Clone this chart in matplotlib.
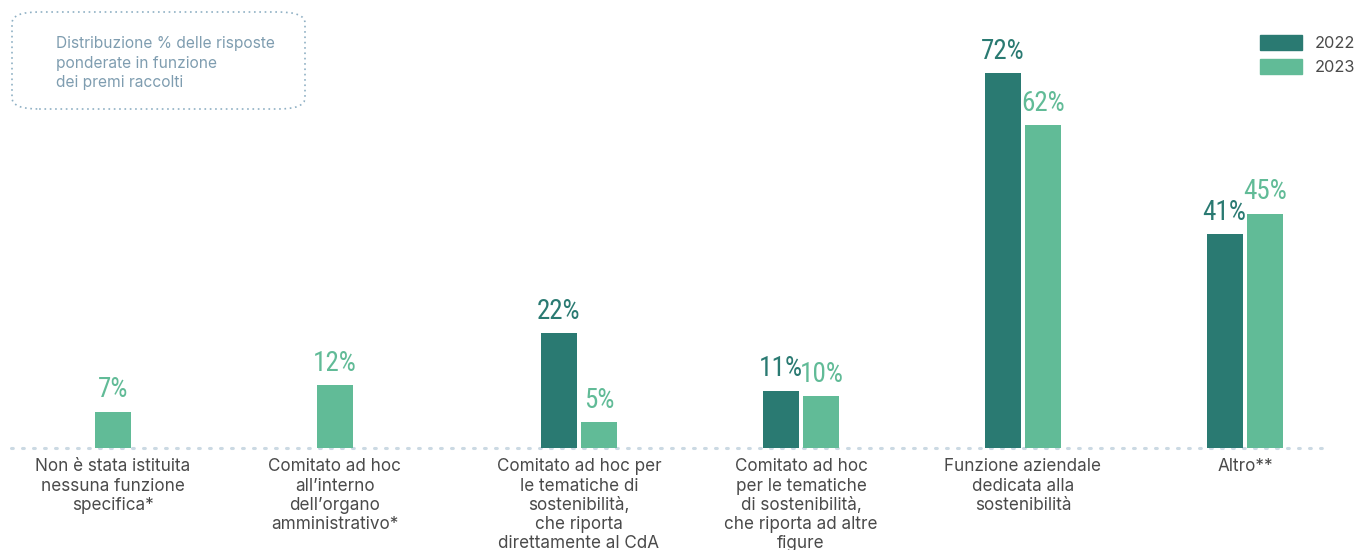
import numpy as np
import matplotlib.pyplot as plt
from matplotlib import font_manager
from matplotlib.patches import FancyBboxPatch, Patch

# Categorie e valori (%)
categories = [
    "Non è stata istituita\nnessuna funzione\nspecifica*",
    "Comitato ad hoc\nall’interno\ndell’organo\namministrativo*",
    "Comitato ad hoc per\nle tematiche di\nsostenibilità,\nche riporta\ndirettamente al CdA",
    "Comitato ad hoc\nper le tematiche\ndi sostenibilità,\nche riporta ad altre\nfigure",
    "Funzione aziendale\ndedicata alla\nsostenibilità",
    "Altro**",
]
values_2022 = [None, None, 22, 11, 72, 41]
values_2023 = [7, 12, 5, 10, 62, 45]
years = ["2022", "2023"]

DARK = "#2a7a72"
LIGHT = "#61bb97"
TEXT = "#4a4a4a"
NOTE = "#7f9db0"

plt.rcParams["font.family"] = ["Inter", "DejaVu Sans"]

# font stretto per le percentuali, se disponibile
installed = {f.name for f in font_manager.fontManager.ttflist}
narrow = [n for n in ("Roboto Condensed", "Open Sans Condensed", "Liberation Sans Narrow",
                      "DejaVu Sans Condensed") if n in installed]
if narrow:
    VALUE_FONT, VALUE_SIZE, VALUE_STRETCH = narrow[0], 19.5, "condensed"
else:
    VALUE_FONT, VALUE_SIZE, VALUE_STRETCH = "Roboto", 15.5, "normal"

fig = plt.figure(figsize=(13.56, 5.5), dpi=100)
ax = fig.add_axes([0, 102 / 550, 1, 448 / 550])

x = np.arange(len(categories))
w = 0.162
off = 0.092

for i in x:
    v22, v23 = values_2022[i], values_2023[i]
    if v22 is not None:
        bars = [(i - off, v22, DARK), (i + off, v23, LIGHT)]
    else:
        bars = [(i - 0.1, v23, LIGHT)]
    for xb, v, c in bars:
        ax.bar(xb, v, width=w, color=c, zorder=2)
        ax.annotate(f"{v}%", (xb, v), xytext=(0, 6), textcoords="offset points",
                    ha="center", va="bottom", fontsize=VALUE_SIZE, color=c,
                    family=VALUE_FONT, fontstretch=VALUE_STRETCH)

# linea di base a punti
ax.plot([-0.56, 5.37], [0, 0], color="#cbd9e3", lw=2.2,
        linestyle=(0, (0.6, 3.0)), dash_capstyle="round", zorder=1, clip_on=False)

for i, lab in zip(x, categories):
    ax.text(i - 0.1 if i < 2 else i, -2.0, lab, ha="center", va="top",
            fontsize=12.3, color=TEXT, linespacing=1.17)

ax.set_xlim(-135 / 222, (1356 - 135) / 222)
ax.set_ylim(0, 448 / 5.21)
ax.axis("off")

# riquadro nota
box = FancyBboxPatch((12 / 1356, 1 - 109 / 550), 293 / 1356, 97 / 550,
                     boxstyle="round,pad=0,rounding_size=0.02",
                     transform=fig.transFigure, fill=False,
                     edgecolor="#8fb0c4", lw=1.2, linestyle=(0, (1, 2.2)))
fig.add_artist(box)
fig.text(56 / 1356, 1 - 36 / 550,
         "Distribuzione % delle risposte\nponderate in funzione\ndei premi raccolti",
         ha="left", va="top", fontsize=11.2, color=NOTE, linespacing=1.38)

handles = [Patch(color=DARK), Patch(color=LIGHT)]
leg = fig.legend(handles, years, loc="upper right", bbox_to_anchor=(1.004, 0.949),
                 frameon=False, fontsize=11.8, handlelength=2.6, handleheight=1.05,
                 labelspacing=0.5, handletextpad=0.75, borderaxespad=0.0)
for t in leg.get_texts():
    t.set_color(TEXT)

fig.savefig("out.png", dpi=100)
